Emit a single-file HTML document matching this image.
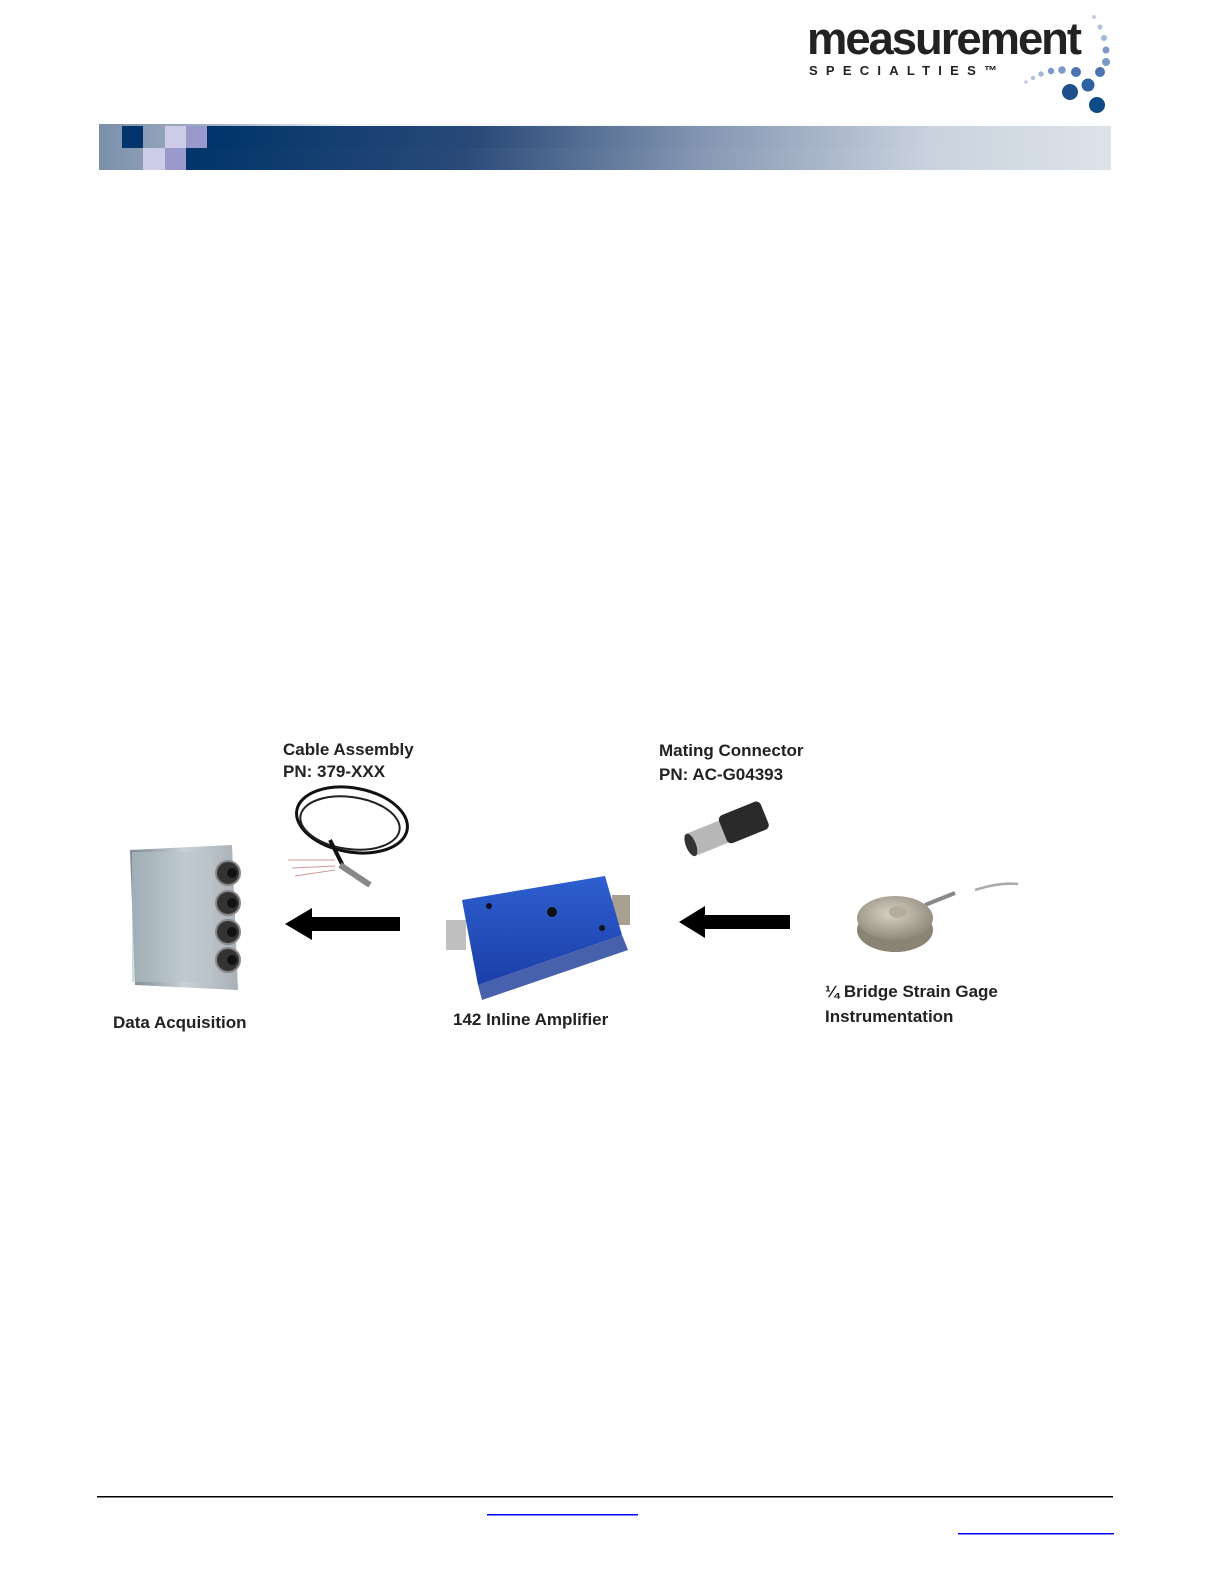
<!DOCTYPE html>
<html><head><meta charset="utf-8"><style>
html,body{margin:0;padding:0;background:#fff;}
body{width:1225px;height:1585px;position:relative;overflow:hidden;font-family:"Liberation Sans",sans-serif;}
</style></head><body>
<svg width="1225" height="1585" viewBox="0 0 1225 1585" xmlns="http://www.w3.org/2000/svg" style="position:absolute;left:0;top:0">
<defs>
<linearGradient id="bg1" x1="0" x2="1" y1="0" y2="0">
<stop offset="0" stop-color="#7a8fab"/><stop offset="0.13" stop-color="#aab6c8"/><stop offset="0.25" stop-color="#f4f6f9"/><stop offset="1" stop-color="#ffffff"/>
</linearGradient>
<linearGradient id="bg2" x1="0" x2="1" y1="0" y2="0">
<stop offset="0" stop-color="#00346a"/><stop offset="0.3" stop-color="#2a4a78"/><stop offset="0.55" stop-color="#8496b2"/><stop offset="0.8" stop-color="#c9d2de"/><stop offset="1" stop-color="#dde3ea"/>
</linearGradient>
<linearGradient id="daq" x1="0" x2="1"><stop offset="0" stop-color="#7d8994"/><stop offset="0.5" stop-color="#c9d0d6"/><stop offset="1" stop-color="#a9b1b8"/></linearGradient>
<linearGradient id="amp" x1="0" x2="0" y1="0" y2="1"><stop offset="0" stop-color="#2e5fd0"/><stop offset="1" stop-color="#1b3fa8"/></linearGradient>
<radialGradient id="lc" cx="0.45" cy="0.4" r="0.6"><stop offset="0" stop-color="#d8d2c4"/><stop offset="1" stop-color="#8f8a7c"/></radialGradient>
</defs>
<!-- logo -->
<text x="807" y="54" font-family="Liberation Sans" font-weight="bold" font-size="45" fill="#222" textLength="273" lengthAdjust="spacingAndGlyphs" letter-spacing="-2">measurement</text>
<text x="809" y="75" font-family="Liberation Sans" font-weight="bold" font-size="13" fill="#222" textLength="188" lengthAdjust="spacing">SPECIALTIES™</text>
<g fill="#7d99c6">
<circle cx="1094" cy="17" r="2" opacity=".5"/><circle cx="1100" cy="27" r="2.5" opacity=".6"/><circle cx="1104" cy="38" r="3" opacity=".7"/><circle cx="1106" cy="50" r="3.5"/><circle cx="1106" cy="62" r="4"/>
<circle cx="1026" cy="82" r="1.8" opacity=".5"/><circle cx="1033" cy="78" r="2.2" opacity=".6"/><circle cx="1041" cy="74" r="2.7" opacity=".7"/><circle cx="1051" cy="71" r="3.2"/><circle cx="1062" cy="70" r="3.8"/><circle cx="1076" cy="72" r="5" fill="#4a75b0"/><circle cx="1100" cy="72" r="5" fill="#4a75b0"/>
</g>
<circle cx="1070" cy="92" r="8" fill="#1c4f8c"/><circle cx="1088" cy="85" r="6.5" fill="#2a62a0"/><circle cx="1097" cy="105" r="8" fill="#0e4a86"/>
<!-- banner -->
<rect x="99" y="124" width="1012" height="46" fill="url(#bg1)"/>
<rect x="207" y="126" width="904" height="22" fill="url(#bg2)"/>
<rect x="186" y="148" width="925" height="22" fill="url(#bg2)"/>
<rect x="122" y="126" width="21" height="22" fill="#00346a"/>
<rect x="165" y="126" width="21" height="22" fill="#cccce8"/>
<rect x="186" y="126" width="21" height="22" fill="#9a99cc"/>
<rect x="143" y="148" width="22" height="22" fill="#cccce8"/>
<rect x="165" y="148" width="21" height="22" fill="#9a99cc"/>
<!-- DAQ -->
<path d="M130 850 L232 845 L238 990 L135 985 Z" fill="url(#daq)"/>
<rect x="132" y="852" width="80" height="130" fill="#b8c4cc" opacity=".6"/>
<g fill="#333" stroke="#888" stroke-width="2">
<circle cx="228" cy="873" r="12"/><circle cx="228" cy="903" r="12"/><circle cx="228" cy="932" r="12"/><circle cx="228" cy="960" r="12"/>
</g>
<g fill="#111"><circle cx="232" cy="873" r="5"/><circle cx="232" cy="903" r="5"/><circle cx="232" cy="932" r="5"/><circle cx="232" cy="960" r="5"/></g>
<!-- cable -->
<ellipse cx="352" cy="820" rx="56" ry="32" fill="none" stroke="#111" stroke-width="3" transform="rotate(10 352 820)"/>
<ellipse cx="350" cy="823" rx="50" ry="26" fill="none" stroke="#222" stroke-width="2" transform="rotate(8 350 823)"/>
<path d="M330 840 L345 870" stroke="#111" stroke-width="4"/>
<path d="M340 865 L370 885" stroke="#888" stroke-width="6"/>
<path d="M288 860 L335 860 M292 868 L335 866 M295 876 L335 870" stroke="#c99" stroke-width="1"/>
<!-- arrows -->
<path d="M400 917 L312 917 L312 908 L285 924 L312 940 L312 931 L400 931 Z" fill="#000"/>
<path d="M790 915 L705 915 L705 906 L679 922 L705 938 L705 929 L790 929 Z" fill="#000"/>
<!-- amplifier -->
<rect x="446" y="920" width="20" height="30" fill="#c0c0c0"/>
<rect x="612" y="895" width="18" height="30" fill="#a8a090"/>
<path d="M462 900 L605 876 L622 935 L478 985 Z" fill="url(#amp)"/>
<path d="M478 985 L622 935 L628 950 L482 1000 Z" fill="#1a3a98" opacity=".8"/>
<circle cx="552" cy="912" r="5" fill="#111"/><circle cx="489" cy="906" r="3" fill="#112"/><circle cx="602" cy="928" r="3" fill="#112"/>
<!-- connector -->
<g transform="rotate(-22 740 825)">
<rect x="685" y="813" width="40" height="24" rx="4" fill="#b8b8b8"/>
<rect x="722" y="809" width="45" height="30" rx="5" fill="#2a2a2a"/>
<ellipse cx="687" cy="825" rx="5" ry="12" fill="#333"/>
</g>
<!-- load cell -->
<path d="M975 890 Q1000 882 1018 884" stroke="#aaa" stroke-width="2.5" fill="none"/>
<path d="M925 905 L955 893" stroke="#888" stroke-width="4"/>
<ellipse cx="895" cy="930" rx="38" ry="22" fill="#8a8475"/>
<ellipse cx="895" cy="918" rx="38" ry="22" fill="url(#lc)"/>
<ellipse cx="898" cy="912" rx="9" ry="6" fill="#b5ad9c"/>
<!-- labels -->
<g font-family="Liberation Sans" font-weight="bold" font-size="17" fill="#222">
<text x="283" y="755">Cable Assembly</text>
<text x="283" y="777">PN: 379-XXX</text>
<text x="659" y="756">Mating Connector</text>
<text x="659" y="780">PN:  AC-G04393</text>
<text x="113" y="1028">Data Acquisition</text>
<text x="453" y="1025">142 Inline Amplifier</text>
<text x="825" y="997">¼ Bridge Strain Gage</text>
<text x="825" y="1022">Instrumentation</text>
</g>
<!-- footer -->
<rect x="97" y="1496" width="1016" height="1.5" fill="#000"/>
<rect x="487" y="1514" width="151" height="1.5" fill="#00f"/>
<rect x="958" y="1533" width="156" height="1.5" fill="#00f"/>
</svg>
</body></html>
